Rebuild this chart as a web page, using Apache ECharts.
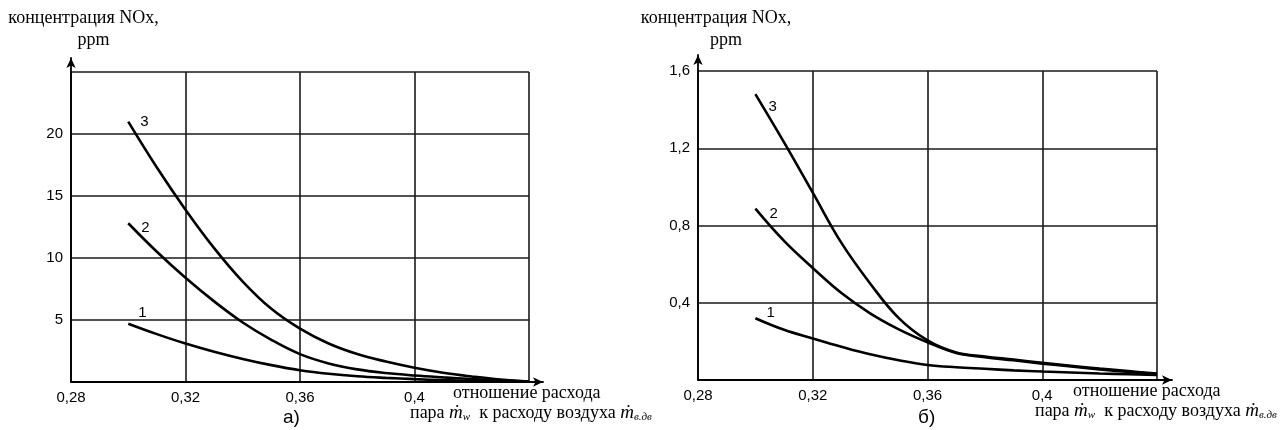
<!DOCTYPE html>
<html><head><meta charset="utf-8">
<script src="https://cdn.jsdelivr.net/npm/echarts@6/dist/echarts.min.js"></script>
<style>html,body{margin:0;padding:0;background:#fff}#c{width:1282px;height:430px}</style>
</head><body><div id="c"></div><script>
// ---- data ----
const xValues = [0.30,0.31,0.32,0.33,0.34,0.35,0.36,0.37,0.38,0.39,0.40,0.41,0.42,0.43,0.44];
const leftCurve1 = [4.7,3.86,3.1,2.44,1.86,1.36,0.95,0.66,0.46,0.33,0.23,0.15,0.09,0.05,0.02];
const leftCurve2 = [12.8,10.5,8.4,6.5,4.8,3.4,2.25,1.5,1.02,0.72,0.52,0.37,0.24,0.12,0.03];
const leftCurve3 = [21,17.3,13.9,10.8,8.1,5.9,4.3,3.1,2.25,1.65,1.15,0.75,0.45,0.2,0.04];
const rightCurve1 = [0.32,0.26,0.215,0.172,0.133,0.102,0.078,0.066,0.058,0.05,0.044,0.039,0.034,0.03,0.026];
const rightCurve2 = [0.887,0.72,0.58,0.45,0.345,0.262,0.195,0.14,0.118,0.102,0.085,0.07,0.055,0.042,0.03];
const rightCurve3 = [1.48,1.23,0.97,0.71,0.5,0.32,0.205,0.143,0.122,0.106,0.089,0.074,0.059,0.046,0.033];
const curveNames = ['1','2','3'];
const xTickLabels = ['0,28','0,32','0,36','0,4',''];
const leftYTickLabels = ['','5','10','15','20',''];
const rightYTickLabels = ['','0,4','0,8','1,2','1,6'];
const yTitle = 'концентрация NOx,';
const yUnit = 'ppm';
const xTitle1 = 'отношение расхода';
const xTitle2a = 'пара ';
const xTitle2b = '  к расходу воздуха ';
const mdot = 'ṁ';
const subW = 'w';
const subAir = 'в.дв';
const panelLabels = ['а)','б)'];

// ---- chart ----
const serif = '"Liberation Serif", "DejaVu Serif", serif';
const sans = '"Liberation Sans", Arial, sans-serif';
const gridColor = '#1a1a1a';

function tickFmt(labels, min, step) {
  return function (v) { const i = Math.round((v - min) / step); return labels[i] !== undefined ? labels[i] : ''; };
}
function xName(padA) {
  return {
    align: 'left', verticalAlign: 'top', padding: [1, 0, 0, 0],
    rich: {
      a: { fontFamily: serif, fontSize: 18, lineHeight: 20, color: '#000', padding: [0, 0, 0, padA] },
      b: { fontFamily: serif, fontSize: 18, lineHeight: 20, color: '#000' },
      m: { fontFamily: serif, fontSize: 19, fontStyle: 'italic', lineHeight: 20, color: '#000' },
      s: { fontFamily: serif, fontSize: 11, fontStyle: 'italic', lineHeight: 12, verticalAlign: 'bottom', color: '#000' }
    }
  };
}
function yName(padL) {
  return {
    align: 'center', verticalAlign: 'bottom', padding: [0, 0, 0, padL],
    rich: {
      t: { fontFamily: serif, fontSize: 18, lineHeight: 22, color: '#000' },
      p: { fontFamily: serif, fontSize: 18, lineHeight: 22, color: '#000', padding: [0, 0, 0, 20] }
    }
  };
}
const xNameText = '{a|' + xTitle1 + '}\n{b|' + xTitle2a + '}{m|' + mdot + '}{s|' + subW + '}{b|' + xTitle2b + '}{m|' + mdot + '}{s|' + subAir + '}';
const yNameText = '{t|' + yTitle + '}\n{p|' + yUnit + '}';

function mainX(gridIndex, gap, padA) {
  return {
    type: 'value', gridIndex: gridIndex, min: 0.28, max: 0.44, interval: 0.04,
    axisLine: { show: false }, axisTick: { show: false },
    axisLabel: { formatter: tickFmt(xTickLabels, 0.28, 0.04), fontFamily: sans, fontSize: 15, color: '#000', margin: 8 },
    splitLine: { show: true, lineStyle: { color: gridColor, width: 1.6 } },
    name: xNameText, nameLocation: 'end', nameGap: gap, nameMoveOverlap: false,
    nameTextStyle: xName(padA)
  };
}
function mainY(gridIndex, max, step, labels, gap, padL) {
  return {
    type: 'value', gridIndex: gridIndex, min: 0, max: max, interval: step,
    axisLine: { show: false }, axisTick: { show: false },
    axisLabel: { formatter: tickFmt(labels, 0, step), fontFamily: sans, fontSize: 15, color: '#000', margin: 8 },
    splitLine: { show: true, lineStyle: { color: gridColor, width: 1.6 } },
    name: yNameText, nameLocation: 'end', nameGap: gap, nameMoveOverlap: false,
    nameTextStyle: yName(padL)
  };
}
function arrowAxis(gridIndex) {
  return {
    type: 'value', gridIndex: gridIndex, min: 0, max: 1,
    axisLine: { show: true, symbol: ['none', 'arrow'], symbolSize: [7, 10], lineStyle: { color: '#000', width: 1.8 } },
    axisTick: { show: false }, axisLabel: { show: false }, splitLine: { show: false }
  };
}
function curve(axisIndex, ys, name, dist, dy) {
  return {
    type: 'line', name: name, xAxisIndex: axisIndex, yAxisIndex: axisIndex,
    smooth: 0.4, symbol: 'circle', symbolSize: 0, showSymbol: true,
    lineStyle: { color: '#000', width: 2.6 }, itemStyle: { color: '#000' },
    label: { show: false }, emphasis: { disabled: true },
    data: ys.map(function (y, i) {
      const item = { value: [xValues[i], y] };
      if (i === 0) item.label = { show: true, formatter: name, position: 'right', distance: dist, offset: [0, dy], fontFamily: sans, fontSize: 15, color: '#000' };
      return item;
    })
  };
}

const chart = echarts.init(document.getElementById('c'), null, { renderer: 'canvas' });
chart.setOption({
  animation: false,
  backgroundColor: '#fff',
  title: [
    { text: panelLabels[0], left: 283, top: 408, padding: 0, textStyle: { fontFamily: sans, fontSize: 19, fontWeight: 'normal', color: '#000' } },
    { text: panelLabels[1], left: 918, top: 408, padding: 0, textStyle: { fontFamily: sans, fontSize: 19, fontWeight: 'normal', color: '#000' } }
  ],
  grid: [
    { left: 71, top: 72, width: 458, height: 310, outerBoundsMode: 'none', containLabel: false },
    { left: 698, top: 71, width: 459, height: 309, outerBoundsMode: 'none', containLabel: false },
    { left: 71, top: 58, width: 472, height: 324, outerBoundsMode: 'none', containLabel: false },
    { left: 698, top: 55, width: 474, height: 325, outerBoundsMode: 'none', containLabel: false }
  ],
  xAxis: [mainX(0, -119, 43), mainX(1, -122, 38), arrowAxis(2), arrowAxis(3)],
  yAxis: [mainY(0, 25, 5, leftYTickLabels, 21, 25), mainY(1, 1.6, 0.4, rightYTickLabels, 20, 36), arrowAxis(2), arrowAxis(3)],
  series: [
    curve(0, leftCurve1, curveNames[0], 10, -11),
    curve(0, leftCurve2, curveNames[1], 13, 5),
    curve(0, leftCurve3, curveNames[2], 12, 0),
    curve(1, rightCurve1, curveNames[0], 11, -5),
    curve(1, rightCurve2, curveNames[1], 14, 5),
    curve(1, rightCurve3, curveNames[2], 13, 13)
  ]
});
</script></body></html>
